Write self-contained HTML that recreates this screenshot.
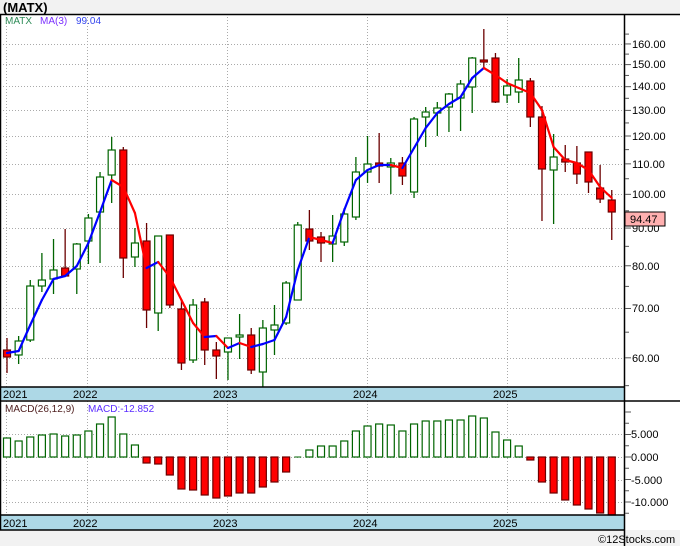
<!DOCTYPE html>
<html><head><meta charset="utf-8"><style>
body{margin:0;background:#f2f2f2;width:680px;height:546px;overflow:hidden;font-family:"Liberation Sans",sans-serif}
svg{display:block}
text{font-family:"Liberation Sans",sans-serif}
</style></head><body>
<svg id="s" width="680" height="546" xmlns="http://www.w3.org/2000/svg">
<rect x="0" y="0" width="680" height="546" fill="#f2f2f2"/>
<rect x="0" y="14" width="680" height="516" fill="#fff"/>
<text x="3" y="12" font-size="13" font-weight="bold" fill="#000">(MATX)</text>
<g id="grid" stroke="#aaa" stroke-dasharray="1,2" stroke-width="1"></g>
<rect x="0" y="387" width="624" height="13" fill="#add8e6"/>
<rect x="0" y="515" width="624" height="15" fill="#add8e6"/>
<g id="plot"></g>
<g stroke="#000" stroke-width="1.5" fill="none">
<line x1="0" y1="14.5" x2="680" y2="14.5"/>
<line x1="0.5" y1="14" x2="0.5" y2="530"/>
<line x1="624.5" y1="14" x2="624.5" y2="546"/>
<line x1="0" y1="387" x2="624" y2="387"/>
<line x1="0" y1="401" x2="680" y2="401"/>
<line x1="0" y1="515" x2="624" y2="515"/>
<line x1="0" y1="530" x2="624" y2="530"/>
</g>
<g id="ticks" stroke="#555" stroke-width="1"></g>
<g font-size="11" fill="#000">
<text x="3" y="398">2021</text><text x="73" y="398">2022</text><text x="213" y="398">2023</text><text x="353" y="398">2024</text><text x="493" y="398">2025</text>
<text x="3" y="527">2021</text><text x="73" y="527">2022</text><text x="213" y="527">2023</text><text x="353" y="527">2024</text><text x="493" y="527">2025</text>
<text x="632" y="48">160.00</text><text x="632" y="68">150.00</text><text x="632" y="90">140.00</text><text x="632" y="114">130.00</text><text x="632" y="140">120.00</text><text x="632" y="168">110.00</text><text x="632" y="198">100.00</text><text x="632" y="232">90.00</text><text x="632" y="270">80.00</text><text x="632" y="312">70.00</text><text x="632" y="362">60.00</text>
<text x="631" y="438">5.000</text><text x="631" y="461">0.000</text><text x="631" y="484">-5.000</text><text x="631" y="506">-10.000</text>
</g>
<rect x="625" y="212" width="40" height="14" fill="#ffb0b0" stroke="#000" stroke-width="1"/>
<text x="630" y="223" font-size="11" fill="#000">94.47</text>
<g font-size="10">
<text x="5" y="24" fill="#2e8b57">MATX</text><text x="40" y="24" fill="#7b2fff">MA(3)</text><text x="76" y="24" fill="#3344ee">99.04</text>
<text x="5" y="412" fill="#502020">MACD(26,12,9)</text><text x="88" y="412" fill="#5a2bff">MACD:-12.852</text>
</g>
<text x="598" y="543" font-size="11" fill="#000">©12Stocks.com</text>
</svg>
<script>
var NS="http://www.w3.org/2000/svg";
function el(p,t,a){var e=document.createElementNS(NS,t);for(var k in a)e.setAttribute(k,a[k]);p.appendChild(e);return e;}
var grid=document.getElementById('grid'),plot=document.getElementById('plot'),ticks=document.getElementById('ticks');
[44,64,86,110,136,164,194,228,266,308,358,434,480,502].forEach(function(y){el(grid,'line',{x1:0,y1:y+.5,x2:624,y2:y+.5});});
[6,87,227,367,507].forEach(function(x){el(grid,'line',{x1:x+.5,y1:14,x2:x+.5,y2:387});el(grid,'line',{x1:x+.5,y1:401,x2:x+.5,y2:515});});
el(grid,'line',{x1:0,y1:457.5,x2:624,y2:457.5});
function py(p){return 1668-320*Math.log(p);}
for(var p=55;p<=165;p+=5){var y=py(p);var big=(p%10==0);el(ticks,'line',{x1:625,y1:y,x2:big?631:629,y2:y});}
for(var v=-12.5;v<=10;v+=2.5){var y=457-v*4.5;el(ticks,'line',{x1:625,y1:y,x2:Number.isInteger(v/5)?631:629,y2:y});}
// candles: [green?, bodyTop, bodyBot, wickTop, wickBot]
var C=[[0,350,357,338,373],[1,341,355,336,364],[1,286,340,280,342],[1,280,286,253,292],[1,270,279,239,294],[0,268,276,229,276],[1,244,269,243,294],[1,218,241,214,264],[1,177,212,172,263],[1,150,175,137,203],[0,150,258,147,278],[1,243,257,228,267],[0,241,310,223,328],[1,236,313,236,331],[0,235,305,235,308],[0,309,363,300,370],[1,305,360,299,363],[0,302,350,298,365],[0,350,356,342,379],[1,338,352,338,380],[1,335,337,314,359],[0,335,370,328,374],[1,328,372,320,387],[1,325,330,305,355],[1,283,323,281,325],[1,225,300,222,300],[0,229,241,210,250],[0,237,243,232,262],[1,236,244,215,262],[1,214,242,208,246],[1,172,217,157,220],[1,164,172,136,183],[0,163,166,133,183],[1,163,167,158,194],[0,163,176,157,185],[1,119,192,117,198],[1,112,117,107,147],[1,108,113,102,136],[1,94,107,93,132],[1,84,98,80,131],[1,58,87,57,113],[0,60,62,29,68],[0,58,102,53,103],[1,86,95,79,103],[1,80,92,58,103],[0,81,117,78,127],[0,117,169,106,221],[1,157,170,134,224],[0,159,162,145,172],[0,163,174,146,184],[0,152,182,152,193],[0,188,199,165,203],[0,200,212,190,240]];
var MA=[353,351,325,300,279,276,266,243,212,180,187,213,268,262,277,300,323,337,336,348,343,347,344,340,317,270,237,240,243,210,180,170,165,165,168,148,128,113,104,97,78,68,75,83,88,93,110,147,160,163,170,187,198];
var M=[438,441,437,435,434,436,435,431,424,417,434,445,463,464,475,489,490,495,498,496,493,493,487,482,472,457,450,446,446,441,431,426,424,425,431,424,421,421,420,420,416,418,432,440,446,460,482,493,500,505,509,513,515];
function X(i){return 7+11.63*i;}
for(var i=0;i<C.length;i++){var c=C[i],x=X(i),g=c[0];
 var dark=g?'#006400':'#6b0000';
 el(plot,'line',{x1:x,y1:c[3],x2:x,y2:c[4],stroke:dark,'stroke-width':1.3});
 el(plot,'rect',{x:x-3.5,y:c[1],width:7,height:Math.max(1.5,c[2]-c[1]),fill:g?'#fff':'#ff0000',stroke:dark,'stroke-width':1.2});
 var m=M[i];if(m<457){el(plot,'rect',{x:x-3.5,y:m,width:7,height:457-m,fill:'#fff',stroke:'#006400','stroke-width':1.2});}
 else if(m>457){el(plot,'rect',{x:x-3.5,y:457,width:7,height:m-457,fill:'#ff0000',stroke:'#6b0000','stroke-width':1.2});}
 else el(plot,'line',{x1:x-3.5,y1:457,x2:x+3.5,y2:457,stroke:'#006400'});
}
for(var i=1;i<MA.length;i++){el(plot,'line',{x1:X(i-1),y1:MA[i-1],x2:X(i),y2:MA[i],stroke:MA[i]<=MA[i-1]?'#0000ff':'#ff0000','stroke-width':2.2,'stroke-linecap':'round'});}
</script>
</body></html>
